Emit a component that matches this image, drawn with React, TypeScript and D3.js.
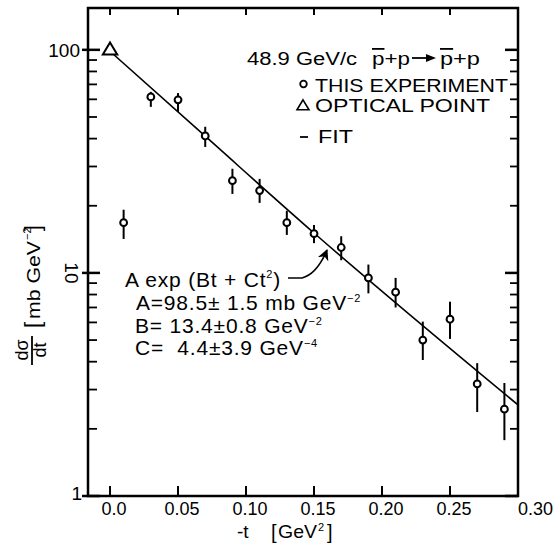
import React from 'react';
import * as d3 from 'd3';

// -t values (GeV^2) and dσ/dt (mb GeV^-2)
const tVals = [0.01, 0.03, 0.05, 0.07, 0.09, 0.11, 0.13, 0.15, 0.17, 0.19, 0.21, 0.23, 0.25, 0.27, 0.29];
const dsdt = [16.8, 61.5, 59.7, 41.1, 25.9, 23.4, 16.8, 15.0, 13.0, 9.5, 8.2, 5.0, 6.2, 3.18, 2.45];
const errLo = [14.2, 55.5, 52.7, 36.7, 22.6, 20.6, 14.8, 13.6, 11.4, 8.1, 7.0, 4.07, 5.06, 2.38, 1.78];
const errHi = [19.2, 64.8, 64.0, 45.2, 29.3, 26.4, 19.0, 16.4, 14.6, 10.9, 9.5, 6.05, 7.43, 3.94, 3.21];

const opticalT = [0];
const opticalV = [100];

// fit curve, points
const fitT = [0, 0.07, 0.15, 0.3];
const fitV = [98.5, 41, 15.1, 2.56];

const xTicks = [0, 0.05, 0.1, 0.15, 0.2, 0.25, 0.3];
const xTickLabels = ['0.0', '0.05', '0.10', '0.15', '0.20', '0.25', '0.30'];
const yMajor = [1, 10, 100];
const yMajorLabels = ['1', '10', '100'];

const FONT = '"Liberation Sans", Arial, sans-serif';

export default function App() {
  const x = d3.scaleLinear().domain([-0.0162, 0.3]).range([88, 518]);
  const y = d3.scaleLog().domain([1, 154]).range([496, 8]);

  const minor: number[] = [];
  [1, 10].forEach((d) => {
    for (let k = 2; k <= 9; k++) minor.push(k * d);
  });

  const fitLine = d3
    .line<number>()
    .x((d, i) => x(fitT[i]))
    .y((d) => y(d))
    .curve(d3.curveMonotoneX)(fitV);

  const triPath = (cx: number, cy: number, s: number) =>
    `M${cx},${cy - s * 0.62} L${cx + s * 0.6},${cy + s * 0.38} L${cx - s * 0.6},${cy + s * 0.38} Z`;

  const [fL, fR, fT, fB] = [88, 518, 8, 496];
  const note = { fontSize: 21, letterSpacing: 0.8, whiteSpace: 'pre' as const };

  return (
    <svg
      width={558}
      height={552}
      style={{ position: 'absolute', left: 0, top: 0, background: '#fff' }}
      fontFamily={FONT}
    >
      <defs>
        <marker id="ah" viewBox="0 0 10 10" refX="9" refY="5" markerWidth="7" markerHeight="7" orient="auto">
          <path d="M0,0 L10,5 L0,10 L3,5 Z" fill="#000" />
        </marker>
      </defs>

      {/* frame */}
      <rect x={fL} y={fT} width={fR - fL} height={fB - fT} fill="none" stroke="#000" strokeWidth={2.5} />

      {/* x ticks, bottom and top */}
      {xTicks.map((t, i) => (
        <g key={'xt' + i}>
          <line x1={x(t)} x2={x(t)} y1={fB} y2={fB - 10} stroke="#000" strokeWidth={2} />
          <line x1={x(t)} x2={x(t)} y1={fT} y2={fT + 7} stroke="#000" strokeWidth={2} />
          <text
            x={i === xTicks.length - 1 ? x(t) : x(t) + 4}
            y={515}
            fontSize={18}
            textAnchor={i === xTicks.length - 1 ? 'start' : 'middle'}
          >
            {xTickLabels[i]}
          </text>
        </g>
      ))}

      {/* y ticks, left and right */}
      {yMajor.map((v, i) => (
        <g key={'ym' + i}>
          <line x1={82} x2={100} y1={y(v)} y2={y(v)} stroke="#000" strokeWidth={2.5} />
          <line x1={505} x2={fR} y1={y(v)} y2={y(v)} stroke="#000" strokeWidth={2.5} />
        </g>
      ))}
      {minor.map((v, i) => (
        <g key={'ymn' + i}>
          <line x1={fL} x2={97} y1={y(v)} y2={y(v)} stroke="#000" strokeWidth={1.8} />
          <line x1={510} x2={fR} y1={y(v)} y2={y(v)} stroke="#000" strokeWidth={1.8} />
        </g>
      ))}
      <text x={80} y={y(100) + 7} fontSize={19} textAnchor="end">{yMajorLabels[2]}</text>
      <text
        x={0}
        y={0}
        fontSize={19}
        textAnchor="middle"
        transform={`translate(65, ${y(10)}) rotate(90)`}
      >
        {yMajorLabels[1]}
      </text>
      <text x={82} y={y(1) + 4} fontSize={19} textAnchor="end">{yMajorLabels[0]}</text>

      {/* y axis title */}
      <g transform="translate(0,552) rotate(-90)">
        <text x={202} y={28} fontSize={18} textAnchor="middle">dσ</text>
        <line x1={187} x2={216} y1={32} y2={32} stroke="#000" strokeWidth={1.8} />
        <text x={202} y={46} fontSize={18} textAnchor="middle">dt</text>
        <text x={224} y={40} fontSize={22} textAnchor="start">[</text>
        <text x={233} y={40} fontSize={18} textAnchor="start" textLength={78} lengthAdjust="spacingAndGlyphs">
          mb GeV
        </text>
        <text x={312} y={31} fontSize={11} textAnchor="start">−2</text>
        <text x={327} y={40} fontSize={22} textAnchor="end">]</text>
      </g>

      {/* x axis title */}
      <text x={237} y={538} fontSize={19}>-t</text>
      <text x={271} y={539} fontSize={20}>[</text>
      <text x={278} y={538} fontSize={19} textLength={39} lengthAdjust="spacingAndGlyphs">GeV</text>
      <text x={318} y={531} fontSize={11}>2</text>
      <text x={327} y={539} fontSize={20}>]</text>

      {/* fit line */}
      <path d={fitLine || ''} fill="none" stroke="#000" strokeWidth={1.6} />

      {/* data with error bars */}
      {tVals.map((t, i) => (
        <g key={'pt' + i}>
          <line x1={x(t)} x2={x(t)} y1={y(errLo[i])} y2={y(errHi[i])} stroke="#000" strokeWidth={2} />
          <circle cx={x(t)} cy={y(dsdt[i])} r={3.4} fill="#fff" stroke="#000" strokeWidth={2} />
        </g>
      ))}

      {/* optical point */}
      {opticalT.map((t, i) => (
        <path key={'op' + i} d={triPath(x(t), y(opticalV[i]), 12)} fill="#fff" stroke="#000" strokeWidth={2} />
      ))}

      {/* legend */}
      <text x={247} y={65} fontSize={18} textLength={110} lengthAdjust="spacingAndGlyphs">48.9 GeV/c</text>
      <text x={372} y={65} fontSize={18} textLength={38} lengthAdjust="spacingAndGlyphs">
        <tspan style={{ textDecoration: 'overline' }}>p</tspan>+p
      </text>
      <line x1={412} x2={428} y1={58} y2={58} stroke="#000" strokeWidth={1.8} />
      <path d="M436,58 L426,54 L426,62 Z" fill="#000" />
      <text x={440} y={65} fontSize={18} textLength={40} lengthAdjust="spacingAndGlyphs">
        <tspan style={{ textDecoration: 'overline' }}>p</tspan>+p
      </text>

      <circle cx={303.5} cy={84} r={3.3} fill="#fff" stroke="#000" strokeWidth={1.8} />
      <text x={315} y={92} fontSize={18} textLength={193} lengthAdjust="spacingAndGlyphs">THIS EXPERIMENT</text>
      <path d={triPath(303, 106, 10)} fill="#fff" stroke="#000" strokeWidth={1.6} />
      <text x={315} y={112} fontSize={18} textLength={175} lengthAdjust="spacingAndGlyphs">OPTICAL POINT</text>
      <line x1={300} x2={308} y1={137} y2={137} stroke="#000" strokeWidth={1.8} />
      <text x={318} y={143} fontSize={18} textLength={35} lengthAdjust="spacingAndGlyphs">FIT</text>

      {/* fit annotation */}
      <text x={125} y={287} style={note}>
        A exp (Bt + Ct<tspan dy={-9} fontSize={11}>2</tspan>
        <tspan dy={9}>)</tspan>
      </text>
      <path
        d="M288,278 L302,278 Q317,274 327,250"
        fill="none"
        stroke="#000"
        strokeWidth={1.6}
        markerEnd="url(#ah)"
      />
      <text x={136} y={310} style={note}>
        A=98.5± 1.5 mb GeV<tspan dy={-8} fontSize={11}>−2</tspan>
      </text>
      <text x={135} y={333} style={note}>
        B= 13.4±0.8 GeV<tspan dy={-8} fontSize={11}>−2</tspan>
      </text>
      <text x={135} y={355} style={note}>
        {'C=  4.4±3.9 GeV'}<tspan dy={-8} fontSize={11}>−4</tspan>
      </text>
    </svg>
  );
}
